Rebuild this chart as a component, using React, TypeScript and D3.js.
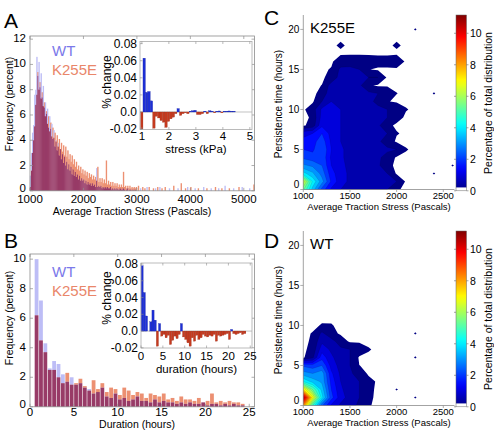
import React from "react";
import * as d3 from "d3";

const FONT = "'Liberation Sans', Arial, Helvetica, sans-serif";
const WT_FILL = "#bdbdf6";
const K255E_FILL = "#ec9072";
const BOTH_FILL = "#983b67";
const WT_TEXT = "#7b79ea";
const K255E_TEXT = "#e9866a";
const RISE = "#1d2fd6";
const FALL = "#c53a1f";
const AXIS = "#8c8c8c";

// ---------- A: average traction stress, 20 Pa bins starting at 1000 Pa
const stressStart = 1000;
const stressWidth = 20;
const stressWT = [
  1.2, 3.0, 4.6, 5.2, 7.6, 8.0, 10.6, 9.1, 10.2, 8.2,
  9.3, 7.4, 8.3, 6.6, 7.0, 6.1, 6.5, 5.0, 5.9, 4.9,
  5.3, 4.1, 4.8, 3.5, 4.0, 3.2, 3.8, 2.8, 3.3, 2.5,
  2.9, 2.2, 2.7, 2.0, 2.3, 1.7, 2.1, 1.6, 1.9, 1.3,
  1.7, 1.2, 1.5, 1.1, 1.3, 0.9, 1.2, 0.8, 1.0, 0.8,
  0.9, 0.6, 0.8, 0.5, 0.7, 0.5, 0.6, 0.4, 0.6, 0.4,
  0.5, 0.3, 1.8, 0.3, 0.4, 0.3, 0.4, 0.2, 0.3, 0.2,
  0.3, 0.2, 0.3, 0.2, 0.2, 0.3, 0.1, 0.2, 0.1, 0.2,
  0.1, 0.2, 0.1, 0.1, 0.2, 0.1, 0.1, 0.2, 0.1, 0.0,
  0.1, 0.2, 0.0, 0.1, 0.1, 0.0, 0.1, 0.0, 0.1, 0.0,
];
const stressK255E = [
  0.3, 1.6, 3.0, 4.0, 5.1, 6.8, 7.6, 9.4, 8.0, 8.6,
  7.3, 7.8, 6.7, 7.0, 5.9, 6.3, 5.3, 5.9, 4.7, 5.4,
  4.3, 5.0, 4.2, 4.6, 3.9, 4.4, 3.5, 4.1, 3.3, 3.8,
  3.1, 3.6, 2.8, 3.5, 2.7, 3.2, 2.5, 2.9, 2.3, 2.8,
  2.1, 2.5, 1.9, 2.3, 1.7, 2.0, 1.6, 1.9, 1.4, 1.7,
  1.3, 1.6, 1.2, 1.5, 1.0, 1.4, 1.1, 1.3, 0.9, 1.2,
  0.9, 1.1, 0.8, 1.9, 0.7, 1.0, 0.7, 1.0, 0.6, 0.9,
  0.6, 2.4, 0.5, 0.8, 0.5, 0.7, 0.4, 0.7, 0.4, 0.6,
  0.4, 0.6, 0.3, 0.5, 0.3, 0.5, 0.3, 1.5, 0.3, 0.4,
  0.2, 0.4, 0.2, 0.4, 0.2, 0.3, 0.2, 0.3, 0.2, 0.3,
];
// sparse tail above 3000 Pa: [bin start, percent]
const stressTailWT: [number, number][] = [
  [3060, 0.2], [3180, 0.3], [3340, 0.2], [3420, 0.3], [3600, 0.2], [3760, 0.2],
  [3940, 0.3], [4080, 0.2], [4240, 0.3], [4380, 0.2], [4520, 0.2], [4640, 0.4],
  [4800, 0.2], [4960, 0.3], [5100, 0.2],
];
const stressTailK255E: [number, number][] = [
  [3020, 0.4], [3100, 0.3], [3140, 0.2], [3220, 0.3], [3300, 0.2], [3380, 0.3],
  [3460, 0.2], [3520, 0.3], [3680, 0.4], [3820, 0.6], [3900, 0.2], [4000, 0.3],
  [4140, 0.2], [4300, 0.2], [4460, 0.3], [4580, 0.2], [4720, 0.2], [4900, 0.3],
  [5180, 0.5],
];
const stressTicks = [1000, 2000, 3000, 4000, 5000];
const freqTicksA = [0, 2, 4, 6, 8, 10, 12];

// inset A: % change per 0.09 kPa bin from 0.95 kPa
const stressChangeStart = 0.95;
const stressChangeWidth = 0.09;
const stressChange = [
  -0.02, 0.063, 0.023, 0.024, 0.013, -0.019, -0.005, -0.007, -0.01, -0.012,
  -0.018, -0.011, -0.008, -0.006, -0.002, 0.004, -0.004, -0.002, -0.001, -0.002,
  0.001, 0.0015, 0.002, -0.003, -0.003, -0.002, 0.001, -0.002, 0.0015, 0.001,
  -0.001, 0.001, 0.0012, -0.001, 0.001, 0.001, 0.0012, 0.001, 0.001,
];
const kPaTicks = [1, 2, 3, 4, 5];

// ---------- B: duration, 0.5 h bins starting at 0.5 h
const durationStart = 0.5;
const durationWidth = 0.5;
const durationWT = [
  10.0, 7.2, 4.3, 2.6, 3.1, 2.9, 2.2, 1.7, 2.0, 1.5, 1.6, 1.3, 1.2, 0.9, 1.0, 1.3,
  0.7, 0.6, 0.9, 0.5, 0.6, 0.4, 0.5, 0.7, 0.4, 0.4, 0.3, 0.5, 0.3, 0.4, 0.3, 0.3,
  0.2, 0.3, 0.2, 0.3, 0.2, 0.2, 0.3, 0.1, 0.2, 0.2, 0.1, 0.2, 0.1, 0.2, 0.1, 0.1,
];
const durationK255E = [
  6.2, 4.5, 3.7, 2.5, 2.5, 2.0, 1.6, 2.3, 1.5, 1.6, 1.9, 1.4, 1.1, 1.8, 1.2, 1.6,
  1.0, 1.3, 1.2, 0.8, 1.3, 1.1, 0.8, 1.0, 0.9, 0.6, 0.9, 0.8, 0.7, 0.9, 0.5, 0.6,
  0.4, 0.7, 0.5, 0.5, 0.4, 0.6, 0.3, 0.4, 0.9, 0.3, 0.4, 0.3, 0.4, 0.3, 0.3, 0.2,
];
const durationTicks = [0, 5, 10, 15, 20, 25];
const freqTicksB = [0, 2, 4, 6, 8, 10];

// inset B: % change per 0.5 h bin from 0 h
const durationChangeStart = 0;
const durationChangeWidth = 0.5;
const durationChange = [
  0.078, 0.046, 0.018, 0.0, 0.011, 0.025, 0.013, -0.018, 0.009, -0.006,
  -0.004, -0.008, -0.005, -0.016, -0.011, -0.006, -0.009, -0.004, 0.009, -0.007,
  -0.01, -0.014, -0.018, -0.008, -0.012, -0.005, -0.01, -0.008, -0.004, -0.006,
  -0.007, -0.005, -0.006, -0.004, -0.012, -0.005, -0.006, -0.005, -0.004, -0.003,
  -0.01, 0.002, -0.003, -0.004, -0.003, -0.002, -0.004, -0.003, 0.0,
];

const changeTicks = [-0.02, 0, 0.02, 0.04, 0.06, 0.08];
const changeLabels = ["-0.02", "0.0", "0.02", "0.04", "0.06", "0.08"];

// ---------- C/D: joint distribution, stress columns x persistence rows
const gridStress = [1000, 1100, 1200, 1300, 1400, 1500, 1600, 1700, 1800, 1900, 2000, 2100, 2200, 2300, 2400, 2500, 2600, 2700];
const gridHours = [0, 1, 2, 3, 4, 5, 6, 7, 8, 9, 10, 11, 12, 13, 14, 15, 16, 17, 18, 19, 20, 21];
const Z = [0, 0, 0, 0, 0, 0, 0, 0, 0, 0, 0, 0, 0, 0, 0, 0, 0, 0];

const k255eGrid = [
  [5.6, 3.8, 2.3, 1.4, 1.0, 0.8, 0.7, 0.6, 0.6, 0.5, 0.083, 0, 0, 0, 0, 0, 0, 0],
  [6.8, 4.4, 3.2, 1.9, 1.2, 0.9, 0.8, 0.7, 0.7, 0.6, 0.5, 0, 0, 0, 0, 0, 0, 0],
  [4.2, 3.6, 2.8, 1.7, 1.2, 0.9, 0.8, 0.7, 0.6, 0.5, 0, 0, 0, 0, 0.058, 0, 0, 0],
  [3.1, 2.9, 2.5, 1.5, 1.1, 0.9, 0.7, 0.7, 0.6, 0.125, 0, 0, 0, 0, 0, 0, 0.058, 0],
  [2.4, 2.2, 2.4, 1.4, 1.1, 0.8, 0.7, 0.6, 0.6, 0.3, 0, 0, 0, 0, 0, 0, 0, 0],
  [2.0, 1.9, 2.5, 1.5, 1.1, 0.8, 0.7, 0.7, 0.6, 0.6, 0.5, 0.067, 0, 0, 0, 0, 0, 0],
  [1.7, 1.8, 2.3, 1.4, 1.0, 0.8, 0.7, 0.7, 0.6, 0.25, 0, 0, 0, 0, 0, 0, 0, 0],
  [1.3, 1.5, 2.0, 1.3, 1.0, 0.8, 0.7, 0.6, 0.6, 0.5, 0.071, 0, 0, 0, 0, 0, 0, 0],
  [0, 0.2, 1.4, 1.2, 1.0, 0.8, 0.7, 0.6, 0.6, 0.125, 0, 0, 0, 0, 0, 0, 0, 0],
  [0, 0.083, 1.2, 1.2, 1.0, 0.8, 0.7, 0.6, 0.6, 0.5, 0.167, 0, 0, 0, 0, 0, 0, 0],
  [0, 0.25, 1.1, 1.1, 1.0, 0.8, 0.7, 0.6, 0.6, 0.5, 0.4, 0.067, 0, 0, 0, 0, 0, 0],
  [0, 0, 0.5, 1.0, 0.9, 0.7, 0.6, 0.6, 0.4, 0.071, 0, 0, 0, 0, 0, 0, 0, 0],
  [0, 0, 0.125, 0.9, 0.9, 0.7, 0.6, 0.6, 0.5, 0.4, 0.056, 0, 0, 0, 0.058, 0, 0, 0],
  [0, 0, 0.056, 0.7, 0.8, 0.7, 0.6, 0.1, 0, 0, 0, 0, 0, 0, 0, 0, 0, 0],
  [0, 0, 0, 0.167, 0.7, 0.7, 0.6, 0.5, 0.5, 0, 0, 0, 0, 0, 0, 0, 0, 0],
  [0, 0, 0, 0.071, 0.6, 0.6, 0.5, 0.0625, 0, 0, 0, 0, 0, 0, 0, 0, 0, 0],
  [0, 0, 0, 0, 0.25, 0.3, 0.3, 0.25, 0.2, 0.2, 0.3, 0, 0, 0, 0, 0, 0, 0],
  Z,
  [0, 0, 0, 0, 0.09, 0, 0, 0, 0, 0, 0.09, 0, 0, 0, 0, 0, 0, 0],
  Z,
  [0, 0, 0, 0, 0, 0, 0, 0, 0, 0, 0, 0, 0.058, 0, 0, 0, 0, 0],
  Z,
];

const wtGrid = [
  [8.5, 5.0, 2.6, 1.4, 0.9, 0.7, 0.4, 0.071, 0, 0, 0, 0, 0, 0, 0, 0, 0, 0],
  [11.0, 7.2, 4.2, 2.2, 1.2, 0.8, 0.5, 0.1, 0, 0, 0, 0, 0.058, 0, 0, 0, 0, 0],
  [7.5, 5.5, 3.8, 2.0, 1.1, 0.7, 0.5, 0.12, 0, 0, 0.058, 0, 0, 0, 0, 0, 0, 0],
  [4.5, 3.8, 3.4, 1.8, 1.0, 0.7, 0.5, 0.167, 0, 0, 0, 0, 0, 0, 0, 0, 0, 0],
  [3.2, 3.0, 3.3, 1.6, 0.9, 0.6, 0.25, 0, 0, 0, 0, 0, 0, 0, 0, 0, 0, 0],
  [2.4, 2.2, 2.5, 1.3, 0.8, 0.5, 0.054, 0, 0, 0, 0, 0, 0, 0, 0, 0, 0, 0],
  [0, 0.38, 1.8, 1.1, 0.7, 0.5, 0, 0, 0, 0, 0, 0, 0.058, 0, 0, 0, 0, 0],
  [0, 0.14, 1.3, 0.9, 0.6, 0.5, 0.3, 0.07, 0, 0, 0, 0, 0, 0, 0, 0, 0, 0],
  [0, 0.086, 0.9, 0.7, 0.25, 0, 0, 0, 0, 0, 0, 0, 0, 0, 0, 0, 0, 0],
  [0, 0.064, 0.6, 0.167, 0, 0, 0, 0, 0, 0, 0, 0, 0.058, 0, 0, 0, 0, 0],
  [0, 0, 0.07, 0.065, 0, 0, 0, 0, 0, 0, 0, 0, 0, 0, 0, 0, 0, 0],
  Z, Z, Z, Z, Z, Z, Z, Z, Z, Z, Z,
];

const levels = [0.05, 0.5, 1, 1.5, 2, 2.5, 3, 3.5, 4, 4.5, 5, 5.5, 6, 6.5, 7, 7.5, 8, 8.5, 9, 9.5, 10, 10.5, 11];
const colorMax = 11.16;
const colorbarTicks = [0, 2, 4, 6, 8, 10];
const persistTicks = [0, 5, 10, 15, 20];
const mapStressTicks = [1000, 1500, 2000, 2500];

type Bin = { x0: number; x1: number; wt: number; k: number };

function buildBins(
  start: number,
  width: number,
  wt: number[],
  k: number[],
  tailWT: [number, number][] = [],
  tailK: [number, number][] = [],
): Bin[] {
  const byStart = new Map<number, Bin>();
  const get = (x0: number) => {
    const key = Math.round(x0 * 1000);
    let b = byStart.get(key);
    if (!b) {
      b = { x0, x1: x0 + width, wt: 0, k: 0 };
      byStart.set(key, b);
    }
    return b;
  };
  wt.forEach((v, i) => { get(start + i * width).wt = v; });
  k.forEach((v, i) => { get(start + i * width).k = v; });
  tailWT.forEach(([x0, v]) => { get(x0).wt = v; });
  tailK.forEach(([x0, v]) => { get(x0).k = v; });
  return Array.from(byStart.values());
}

function jet(t: number) {
  const c = (v: number) => Math.max(0, Math.min(1, v));
  const r = c(1.5 - Math.abs(4 * t - 3));
  const g = c(1.5 - Math.abs(4 * t - 2));
  const b = c(1.5 - Math.abs(4 * t - 1));
  return d3.rgb(r * 255, g * 255, b * 255).formatHex();
}

type Linear = d3.ScaleLinear<number, number>;

interface HistProps {
  bins: Bin[];
  x: Linear;
  y: Linear;
  xTicks: number[];
  yTicks: number[];
  gap: number;
  xTitle: string;
  titleX: number;
  labelY: number;
  titleY: number;
  yTitleY: number;
  legendY: number;
}

function HistPanel({ bins, x, y, xTicks, yTicks, gap, xTitle, titleX, labelY, titleY, yTitleY, legendY }: HistProps) {
  const [left, right] = x.range();
  const [bottom, top] = y.range();
  return (
    <g>
      {bins.map((b, i) => {
        const lo = Math.min(b.wt, b.k);
        const hi = Math.max(b.wt, b.k);
        const bx = x(b.x0) + gap / 2;
        const bw = Math.max(0.4, x(b.x1) - x(b.x0) - gap);
        return (
          <g key={i}>
            {hi > lo && (
              <rect x={bx} y={y(hi)} width={bw} height={y(lo) - y(hi)} fill={b.wt > b.k ? WT_FILL : K255E_FILL} />
            )}
            {lo > 0 && <rect x={bx} y={y(lo)} width={bw} height={y(0) - y(lo)} fill={BOTH_FILL} />}
          </g>
        );
      })}
      <rect x={left} y={top} width={right - left} height={bottom - top} fill="none" stroke={AXIS} strokeWidth={0.8} />
      {yTicks.map((t) => (
        <g key={`y${t}`}>
          <line x1={left} x2={left + 3} y1={y(t)} y2={y(t)} stroke={AXIS} strokeWidth={0.7} />
          <line x1={right} x2={right - 3} y1={y(t)} y2={y(t)} stroke={AXIS} strokeWidth={0.7} />
          <text
            x={left - 4}
            y={y(t) - (t === 0 ? 3 : 1)}
            textAnchor="end"
            dominantBaseline="central"
            fontSize={11.5}
          >
            {t}
          </text>
        </g>
      ))}
      {xTicks.map((t) => (
        <g key={`x${t}`}>
          <line x1={x(t)} x2={x(t)} y1={bottom} y2={bottom - 3} stroke={AXIS} strokeWidth={0.7} />
          <line x1={x(t)} x2={x(t)} y1={top} y2={top + 3} stroke={AXIS} strokeWidth={0.7} />
          <text x={x(t)} y={labelY} textAnchor="middle" fontSize={11.5}>
            {t}
          </text>
        </g>
      ))}
      <text x={titleX} y={titleY} textAnchor="middle" fontSize={10.5}>
        {xTitle}
      </text>
      <text transform={`translate(9,${yTitleY}) rotate(-90)`} textAnchor="middle" dominantBaseline="central" fontSize={10.5}>
        Frequency (percent)
      </text>
      <text x={52} y={legendY} fill={WT_TEXT} fontSize={15}>WT</text>
      <text x={52} y={legendY + 19} fill={K255E_TEXT} fontSize={15}>K255E</text>
    </g>
  );
}

interface InsetProps {
  values: number[];
  start: number;
  width: number;
  x: Linear;
  y: Linear;
  xTicks: number[];
  title: string;
  labelY: number;
  titleY: number;
  changeY: number;
}

function Inset({ values, start, width, x, y, xTicks, title, labelY, titleY, changeY }: InsetProps) {
  const [left, right] = x.range();
  const [bottom, top] = y.range();
  return (
    <g>
      <rect x={left} y={top} width={right - left} height={bottom - top} fill="#fff" />
      <line x1={left} x2={right} y1={y(0)} y2={y(0)} stroke="#9a9a9a" strokeWidth={0.6} />
      {values.map((v, i) => {
        if (v === 0) return null;
        const x0 = start + i * width;
        return (
          <rect
            key={i}
            x={x(x0)}
            y={Math.min(y(v), y(0))}
            width={x(x0 + width) - x(x0)}
            height={Math.abs(y(v) - y(0))}
            fill={v > 0 ? RISE : FALL}
            stroke={v > 0 ? "#101c9a" : "#8e2513"}
            strokeWidth={0.25}
          />
        );
      })}
      <rect x={left} y={top} width={right - left} height={bottom - top} fill="none" stroke="#aaa" strokeWidth={0.8} />
      {changeTicks.map((t, i) => (
        <g key={`cy${t}`}>
          <line x1={left} x2={left + 2.5} y1={y(t)} y2={y(t)} stroke={AXIS} strokeWidth={0.6} />
          <text x={left - 3} y={y(t)} textAnchor="end" dominantBaseline="central" fontSize={12}>
            {changeLabels[i]}
          </text>
        </g>
      ))}
      {xTicks.map((t) => (
        <g key={`cx${t}`}>
          <line x1={x(t)} x2={x(t)} y1={bottom} y2={bottom - 2.5} stroke={AXIS} strokeWidth={0.6} />
          <line x1={x(t)} x2={x(t)} y1={top} y2={top + 2.5} stroke={AXIS} strokeWidth={0.6} />
          <text x={x(t)} y={labelY} textAnchor="middle" fontSize={11.5}>
            {t}
          </text>
        </g>
      ))}
      <text x={(left + right) / 2} y={titleY} textAnchor="middle" fontSize={11.5}>
        {title}
      </text>
      <text transform={`translate(107,${changeY}) rotate(-90)`} textAnchor="middle" dominantBaseline="central" fontSize={12}>
        % change
      </text>
    </g>
  );
}

interface MapProps {
  grid: number[][];
  dy: number;
  tag: string;
  clipId: string;
}

function DistributionMap({ grid, dy, tag, clipId }: MapProps) {
  const x = d3.scaleLinear().domain([1000, 2620]).range([303.3, 454.5]);
  const y = d3.scaleLinear().domain([0, 21.8]).range([189.5 + dy, 15 + dy]);
  const cb = d3.scaleLinear().domain([0, colorMax]).range([190.8 + dy, 15 + dy]);
  const nx = gridStress.length;
  const ny = gridHours.length;
  const stressStep = gridStress[1] - gridStress[0];
  const hourStep = gridHours[1] - gridHours[0];
  const bands = d3.contours().size([nx, ny]).thresholds(levels)(grid.flat());
  const toScreen = d3.geoTransform({
    point(px: number, py: number) {
      this.stream.point(x(gridStress[0] + (px - 0.5) * stressStep), y(gridHours[0] + (py - 0.5) * hourStep));
    },
  });
  const path = d3.geoPath(toScreen);
  const [left, right] = x.range();
  const [bottom, top] = y.range();
  const cbLeft = 456;
  const cbW = 10.5;
  return (
    <g>
      <defs>
        <clipPath id={clipId}>
          <rect x={left} y={top} width={right - left} height={bottom - top} />
        </clipPath>
      </defs>
      <g clipPath={`url(#${clipId})`}>
        {bands.map((c, i) => (
          <path
            key={i}
            d={path(c) ?? ""}
            fill={jet(c.value / colorMax)}
            stroke={i === 0 ? "none" : "rgba(0,0,0,0.3)"}
            strokeWidth={0.35}
          />
        ))}
      </g>
      <line x1={left} x2={left} y1={bottom} y2={top} stroke={AXIS} strokeWidth={0.8} />
      <line x1={left} x2={right} y1={bottom} y2={bottom} stroke={AXIS} strokeWidth={0.8} />
      {persistTicks.map((t) => (
        <g key={`p${t}`}>
          <line x1={left - 3} x2={left} y1={y(t)} y2={y(t)} stroke={AXIS} strokeWidth={0.7} />
          <text
            x={left - 4}
            y={y(t) - (t === 0 ? 5 : 0)}
            textAnchor="end"
            dominantBaseline="central"
            fontSize={10}
          >
            {t}
          </text>
        </g>
      ))}
      {mapStressTicks.map((t) => (
        <g key={`s${t}`}>
          <line x1={x(t)} x2={x(t)} y1={bottom} y2={bottom + 2.5} stroke={AXIS} strokeWidth={0.7} />
          <text x={x(t)} y={198.5 + dy} textAnchor="middle" fontSize={9.5}>
            {t}
          </text>
        </g>
      ))}
      <text x={379} y={209.5 + dy} textAnchor="middle" fontSize={9.5}>
        Average Traction Stress (Pascals)
      </text>
      <text transform={`translate(278,${104 + dy}) rotate(-90)`} textAnchor="middle" dominantBaseline="central" fontSize={10}>
        Persistence time (hours)
      </text>
      <text x={310} y={33 + dy} fontSize={15}>
        {tag}
      </text>
      {/* colour bar */}
      <rect x={cbLeft} y={cb(colorMax)} width={cbW} height={cb(0.2) - cb(colorMax)} fill="url(#jetRamp)" />
      <rect x={cbLeft} y={cb(0.2)} width={cbW} height={cb(0) - cb(0.2)} fill="#fff" />
      <rect x={cbLeft} y={cb(colorMax)} width={cbW} height={cb(0) - cb(colorMax)} fill="none" stroke="#666" strokeWidth={0.5} />
      {colorbarTicks.map((t) => (
        <g key={`c${t}`}>
          <line x1={cbLeft - 2} x2={cbLeft} y1={cb(t)} y2={cb(t)} stroke="#666" strokeWidth={0.6} />
          <line x1={cbLeft + cbW} x2={cbLeft + cbW + 2} y1={cb(t)} y2={cb(t)} stroke="#666" strokeWidth={0.6} />
          <text x={470} y={cb(t)} dominantBaseline="central" fontSize={10.5}>
            {t}
          </text>
        </g>
      ))}
      <text transform={`translate(488,${103 + dy}) rotate(-90)`} textAnchor="middle" dominantBaseline="central" fontSize={10.5}>
        Percentage of total distribution
      </text>
    </g>
  );
}

const xA = d3.scaleLinear().domain([1000, 5200]).range([30, 254.5]);
const yA = d3.scaleLinear().domain([0, 12.25]).range([190.8, 36]);
const xB = d3.scaleLinear().domain([0, 25.6]).range([30, 254.5]);
const yB = d3.scaleLinear().domain([0, 10.35]).range([406.8, 254]);
const xIA = d3.scaleLinear().domain([0.93, 5.08]).range([140, 252]);
const yIA = d3.scaleLinear().domain([-0.0205, 0.0825]).range([129.5, 41.5]);
const xIB = d3.scaleLinear().domain([0, 25.4]).range([141, 252]);
const yIB = d3.scaleLinear().domain([-0.0202, 0.0812]).range([348, 263]);

const rampStops = d3.range(0, 33).map((k) => {
  const v = 0.2 + (k * (colorMax - 0.2)) / 32;
  return { offset: k / 32, color: jet(v / colorMax) };
});

export default function App() {
  const stressBins = buildBins(stressStart, stressWidth, stressWT, stressK255E, stressTailWT, stressTailK255E);
  const durationBins = buildBins(durationStart, durationWidth, durationWT, durationK255E);
  return (
    <svg
      width={494}
      height={430}
      style={{ position: "absolute", left: 0, top: 0, display: "block" }}
      fontFamily={FONT}
    >
      <defs>
        <linearGradient id="jetRamp" x1="0" y1="1" x2="0" y2="0">
          {rampStops.map((s) => (
            <stop key={s.offset} offset={s.offset} stopColor={s.color} />
          ))}
        </linearGradient>
      </defs>
      <rect width={494} height={430} fill="#fff" />

      <HistPanel
        bins={stressBins}
        x={xA}
        y={yA}
        xTicks={stressTicks}
        yTicks={freqTicksA}
        gap={-0.3}
        xTitle="Average Traction Stress (Pascals)"
        titleX={132}
        labelY={203}
        titleY={215}
        yTitleY={104}
        legendY={56}
      />
      <Inset
        values={stressChange}
        start={stressChangeStart}
        width={stressChangeWidth}
        x={xIA}
        y={yIA}
        xTicks={kPaTicks}
        title="stress (kPa)"
        labelY={139.5}
        titleY={153}
        changeY={82}
      />

      <HistPanel
        bins={durationBins}
        x={xB}
        y={yB}
        xTicks={durationTicks}
        yTicks={freqTicksB}
        gap={0.6}
        xTitle="Duration (hours)"
        titleX={137}
        labelY={416}
        titleY={428}
        yTitleY={318}
        legendY={277}
      />
      <Inset
        values={durationChange}
        start={durationChangeStart}
        width={durationChangeWidth}
        x={xIB}
        y={yIB}
        xTicks={durationTicks}
        title="duration (hours)"
        labelY={359.5}
        titleY={373}
        changeY={298}
      />

      <DistributionMap grid={k255eGrid} dy={0} tag="K255E" clipId="clipC" />
      <DistributionMap grid={wtGrid} dy={216} tag="WT" clipId="clipD" />

      <text x={4} y={28} fontSize={21}>A</text>
      <text x={4} y={248} fontSize={21}>B</text>
      <text x={264} y={25} fontSize={21}>C</text>
      <text x={264} y={248} fontSize={21}>D</text>
    </svg>
  );
}
